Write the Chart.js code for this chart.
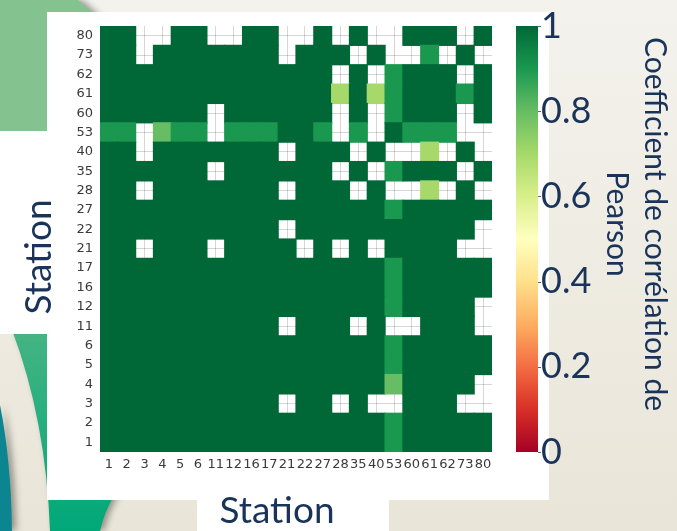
<!DOCTYPE html>
<html>
<head>
<meta charset="utf-8">
<title>Corrélation entre stations</title>
<script src="https://cdn.jsdelivr.net/npm/chart.js@4.4.1/dist/chart.umd.min.js"></script>
<style>
  html, body { margin: 0; padding: 0; background: #efece3; }
  canvas { display: block; }
</style>
</head>
<body>
<canvas id="heatmap" width="677" height="531"></canvas>
<script>
// stations, same order on both axes (y: bottom -> top)
const stations = ['1','2','3','4','5','6','11','12','16','17','21','22','27','28','35','40','53','60','61','62','73','80'];

// Pearson coefficient per pair, one row per station, null = no value (white cell)
const row1  = [1,1,1,1,1,1,1,1,1,1,1,1,1,1,1,1,.9,1,1,1,1,1];
const row2  = [1,1,1,1,1,1,1,1,1,1,1,1,1,1,1,1,.9,1,1,1,1,1];
const row3  = [1,1,1,1,1,1,1,1,1,1,null,1,1,null,1,null,null,1,1,1,null,null];
const row4  = [1,1,1,1,1,1,1,1,1,1,1,1,1,1,1,1,.8,1,1,1,1,null];
const row5  = [1,1,1,1,1,1,1,1,1,1,1,1,1,1,1,1,.9,1,1,1,1,1];
const row6  = [1,1,1,1,1,1,1,1,1,1,1,1,1,1,1,1,.9,1,1,1,1,1];
const row11 = [1,1,1,1,1,1,1,1,1,1,null,1,1,1,null,1,null,null,1,1,1,null];
const row12 = [1,1,1,1,1,1,1,1,1,1,1,1,1,1,1,1,.9,1,1,1,1,null];
const row16 = [1,1,1,1,1,1,1,1,1,1,1,1,1,1,1,1,.9,1,1,1,1,1];
const row17 = [1,1,1,1,1,1,1,1,1,1,1,1,1,1,1,1,.9,1,1,1,1,1];
const row21 = [1,1,null,1,1,1,null,1,1,1,1,null,1,null,1,null,1,1,1,1,null,null];
const row22 = [1,1,1,1,1,1,1,1,1,1,null,1,1,1,1,1,1,1,1,1,1,null];
const row27 = [1,1,1,1,1,1,1,1,1,1,1,1,1,1,1,1,.9,1,1,1,1,1];
const row28 = [1,1,null,1,1,1,1,1,1,1,null,1,1,1,null,1,null,null,.7,null,1,null];
const row35 = [1,1,1,1,1,1,null,1,1,1,1,1,1,null,1,null,.9,1,1,1,null,1];
const row40 = [1,1,null,1,1,1,1,1,1,1,null,1,1,1,null,1,null,null,.7,null,1,null];
const row53 = [.9,.9,null,.8,.9,.9,null,.9,.9,.9,1,1,.9,null,.9,null,1,.9,.9,.9,null,null];
const row60 = [1,1,1,1,1,1,null,1,1,1,1,1,1,null,1,null,.9,1,1,1,null,1];
const row61 = [1,1,1,1,1,1,1,1,1,1,1,1,1,.7,1,.7,.9,1,1,1,.9,1];
const row62 = [1,1,1,1,1,1,1,1,1,1,1,1,1,null,1,null,.9,1,1,1,null,1];
const row73 = [1,1,null,1,1,1,1,1,1,1,null,1,1,1,null,1,null,null,.9,null,1,null];
const row80 = [1,1,null,null,1,1,null,null,1,1,null,null,1,null,1,null,null,1,1,1,null,1];

const corr = [row1,row2,row3,row4,row5,row6,row11,row12,row16,row17,row21,row22,row27,row28,row35,row40,row53,row60,row61,row62,row73,row80];

// colour bar
const cbTicks = [0, 0.2, 0.4, 0.6, 0.8, 1];
const cbTitle = ['Coefficient de corrélation de', 'Pearson'];

// RdYlGn
const cmap = ['#a50026','#d73027','#f46d43','#fdae61','#fee08b','#ffffbf','#d9ef8b','#a6d96a','#66bd63','#1a9850','#006837'];
const navy = '#1a3459';

function hexRgb(h) {
  return [1, 3, 5].map(i => parseInt(h.substr(i, 2), 16));
}

function rdylgn(v) {
  const t = Math.min(Math.max(v, 0), 1) * (cmap.length - 1);
  const i = Math.min(Math.floor(t), cmap.length - 2);
  const f = t - i;
  const a = hexRgb(cmap[i]), b = hexRgb(cmap[i + 1]);
  const c = a.map((x, k) => Math.round(x + (b[k] - x) * f));
  return `rgb(${c[0]},${c[1]},${c[2]})`;
}

// one floating-bar dataset per row, each bar covers exactly one cell
const datasets = corr.map((row, r) => ({
  label: stations[r],
  data: row.map(v => v === null ? null : [r - 0.5, r + 0.5]),
  backgroundColor: row.map(v => v === null ? 'rgba(0,0,0,0)' : rdylgn(v)),
  borderWidth: 0,
  inflateAmount: 0.6,
  barPercentage: 1,
  categoryPercentage: 1,
  grouped: false,
  yAxisID: 'y'
}));

// fixed axis boxes so the plot sits where the slide has it
function pinBox(size) {
  return s => {
    if (s.isHorizontal()) s.height = size; else s.width = size;
    s.paddingTop = 0;
    s.paddingBottom = 0;
    s.paddingLeft = 0;
    s.paddingRight = 0;
  };
}

// slide background, white panel, label boxes
const backdrop = {
  id: 'backdrop',
  beforeDraw(chart) {
    const ctx = chart.ctx;
    const w = chart.width, h = chart.height;
    ctx.save();
    let g = ctx.createLinearGradient(0, 0, 0, h);
    g.addColorStop(0, '#f4f2ed');
    g.addColorStop(1, '#e9e5d8');
    ctx.fillStyle = g;
    ctx.fillRect(0, 0, w, h);

    ctx.shadowColor = 'rgba(70,70,60,0.55)';
    ctx.shadowBlur = 7;
    ctx.shadowOffsetX = 4;

    // top left green block
    ctx.fillStyle = '#84c38f';
    ctx.beginPath();
    ctx.moveTo(0, 0); ctx.lineTo(78, 0); ctx.lineTo(98, 18); ctx.lineTo(98, 140); ctx.lineTo(0, 140);
    ctx.closePath(); ctx.fill();

    // teal swoosh
    ctx.fillStyle = '#0b8690';
    ctx.beginPath();
    ctx.moveTo(0, 405); ctx.quadraticCurveTo(11, 460, 12, 531); ctx.lineTo(0, 531);
    ctx.closePath(); ctx.fill();

    // green swoosh
    g = ctx.createLinearGradient(0, 330, 0, 531);
    g.addColorStop(0, '#46b483');
    g.addColorStop(1, '#00a878');
    ctx.fillStyle = g;
    ctx.beginPath();
    ctx.moveTo(12, 330); ctx.quadraticCurveTo(46, 420, 50, 531);
    ctx.lineTo(100, 531); ctx.quadraticCurveTo(104, 512, 116, 492);
    ctx.lineTo(116, 330);
    ctx.closePath(); ctx.fill();

    ctx.shadowColor = 'transparent';
    ctx.fillStyle = '#ffffff';
    ctx.fillRect(47, 12, 502, 488);
    ctx.fillRect(0, 131, 48, 203);
    ctx.fillRect(197, 499, 192, 32);
    ctx.restore();
  }
};

// colour bar and the slide's titles
const colorbar = {
  id: 'colorbar',
  afterDraw(chart) {
    const ctx = chart.ctx;
    const cb = chart.scales.cb;
    const y0 = cb.getPixelForValue(0), y1 = cb.getPixelForValue(1);
    ctx.save();
    const g = ctx.createLinearGradient(0, y0, 0, y1);
    cmap.forEach((c, i) => g.addColorStop(i / (cmap.length - 1), c));
    ctx.fillStyle = g;
    ctx.fillRect(516, y1, 22, y0 - y1);

    ctx.strokeStyle = '#666';
    ctx.lineWidth = 1;
    cbTicks.forEach(v => {
      const y = Math.round(cb.getPixelForValue(v)) + 0.5;
      ctx.beginPath(); ctx.moveTo(538, y); ctx.lineTo(541, y); ctx.stroke();
    });

    ctx.fillStyle = navy;
    ctx.textAlign = 'center';
    ctx.textBaseline = 'alphabetic';
    ctx.font = '37px Lato';
    ctx.fillText('Station', 277, 523);

    ctx.save();
    ctx.translate(51, 257);
    ctx.rotate(-Math.PI / 2);
    ctx.fillText('Station', 0, 0);
    ctx.restore();

    ctx.font = '30px Lato';
    cbTitle.forEach((line, i) => {
      ctx.save();
      ctx.translate(645 - i * 38, 224);
      ctx.rotate(Math.PI / 2);
      ctx.fillText(line, 0, 0);
      ctx.restore();
    });
    ctx.restore();
  }
};

const gridColor = 'rgba(0,0,0,0.16)';
const tickFont = { family: 'DejaVu Sans', size: 13 };

new Chart(document.getElementById('heatmap'), {
  type: 'bar',
  data: { labels: stations, datasets: datasets },
  options: {
    responsive: false,
    animation: false,
    layout: { padding: { top: 26, left: 0, right: 0, bottom: 0 } },
    plugins: {
      legend: { display: false },
      tooltip: { enabled: false }
    },
    scales: {
      x: {
        type: 'category',
        offset: true,
        grid: { offset: false, color: gridColor, drawTicks: false },
        border: { display: false },
        ticks: { autoSkip: false, maxRotation: 0, padding: 5, color: '#3a3a3a', font: tickFont },
        afterFit: pinBox(79)
      },
      y: {
        type: 'linear',
        min: -0.5,
        max: 21.5,
        afterBuildTicks: s => { s.ticks = stations.map((_, i) => ({ value: i })); },
        grid: { color: gridColor, drawTicks: false },
        border: { display: false },
        ticks: { autoSkip: false, padding: 7, color: '#3a3a3a', font: tickFont, callback: v => stations[v] },
        afterFit: pinBox(100)
      },
      cb: {
        type: 'linear',
        position: 'right',
        min: 0,
        max: 1,
        afterBuildTicks: s => { s.ticks = cbTicks.map(v => ({ value: v })); },
        grid: { display: false, drawTicks: false },
        border: { display: false },
        ticks: { padding: 49, color: navy, font: { family: 'Lato', size: 36 }, callback: v => String(v) },
        afterFit: pinBox(185)
      }
    }
  },
  plugins: [backdrop, colorbar]
});
</script>
</body>
</html>
